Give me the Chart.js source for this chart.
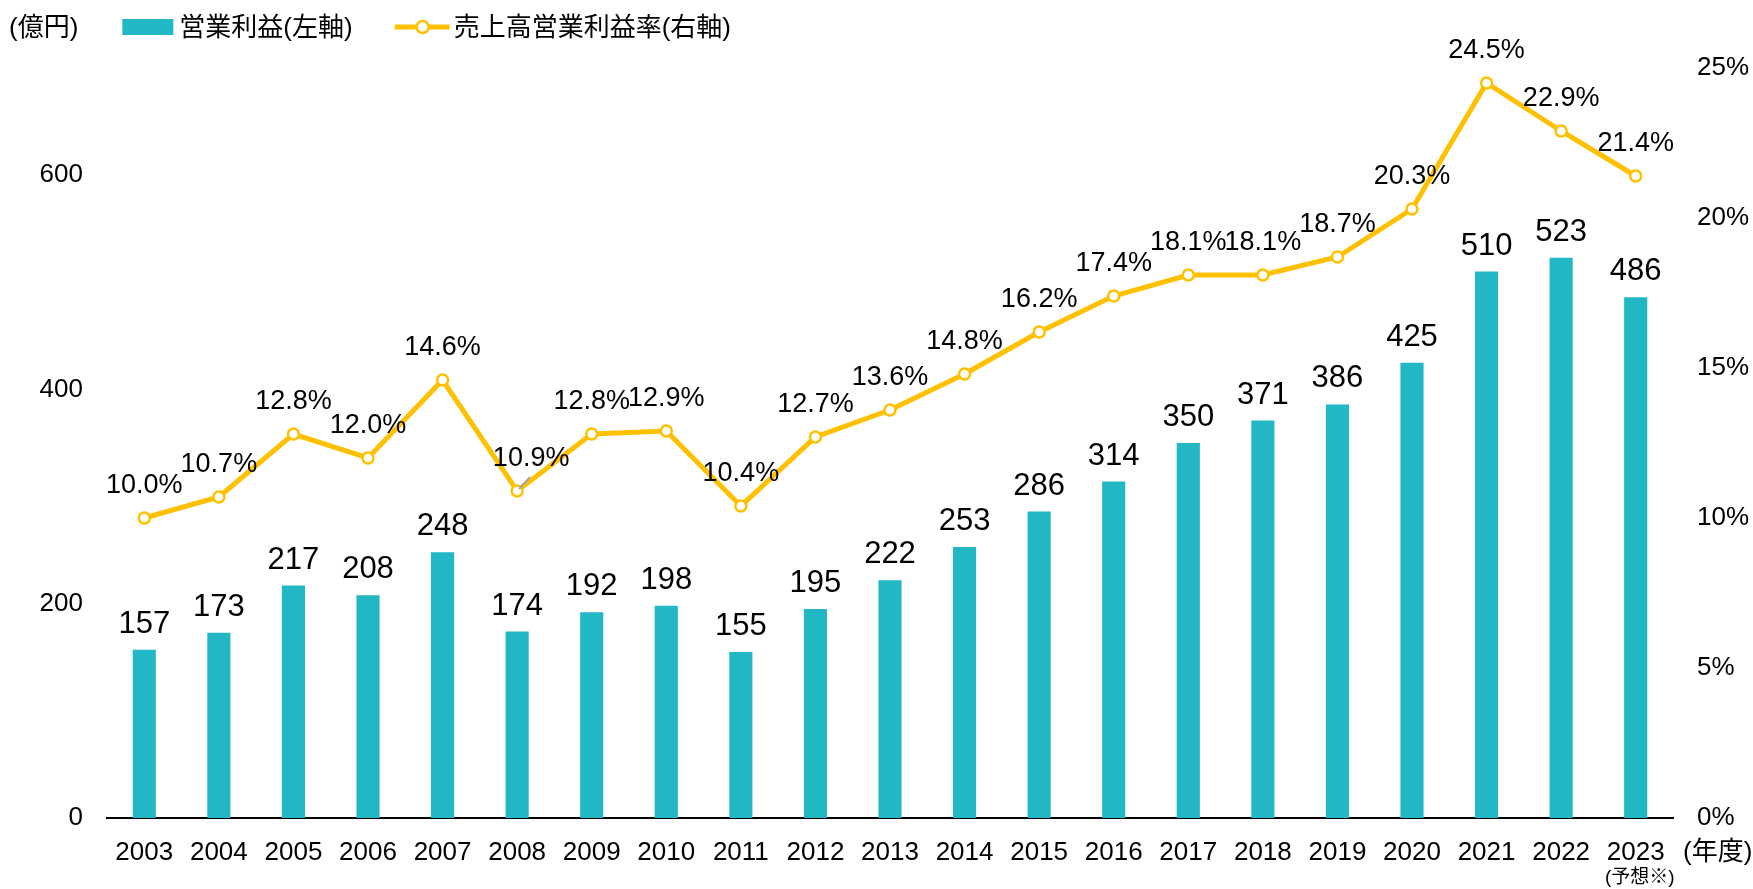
<!DOCTYPE html>
<html lang="ja">
<head>
<meta charset="utf-8">
<script src="https://cdn.jsdelivr.net/npm/chart.js@4.4.1/dist/chart.umd.min.js"></script>
<style>
  html, body { margin: 0; padding: 0; background: #fff; }
</style>
</head>
<body>
<canvas id="profit-chart" width="1753" height="889"></canvas>
<script>
// data
const years = ["2003", "2004", "2005", "2006", "2007", "2008", "2009", "2010", "2011", "2012",
  "2013", "2014", "2015", "2016", "2017", "2018", "2019", "2020", "2021", "2022", "2023"];
const profit = [157, 173, 217, 208, 248, 174, 192, 198, 155, 195,
  222, 253, 286, 314, 350, 371, 386, 425, 510, 523, 486];
const margin = [10.0, 10.7, 12.8, 12.0, 14.6, 10.9, 12.8, 12.9, 10.4, 12.7,
  13.6, 14.8, 16.2, 17.4, 18.1, 18.1, 18.7, 20.3, 24.5, 22.9, 21.4];
const profitTicks = [0, 200, 400, 600];
const marginTicks = [0, 5, 10, 15, 20, 25];

const profitLabel = "営業利益(左軸)";
const marginLabel = "売上高営業利益率(右軸)";
const unitLabel = "(億円)";
const yearUnitLabel = "(年度)";
const forecastNote = "(予想※)";

const FONT = '"Liberation Sans", "Noto Sans CJK JP", sans-serif';
const TEAL = "#21B7C5";
const YELLOW = "#FFC000";

// value labels above bars and points
const valueLabels = {
  id: "valueLabels",
  afterDatasetsDraw(chart) {
    const ctx = chart.ctx;
    ctx.save();
    ctx.fillStyle = "#000";
    ctx.textAlign = "center";
    ctx.textBaseline = "alphabetic";

    ctx.font = "31px " + FONT;
    chart.getDatasetMeta(1).data.forEach((bar, i) => {
      ctx.fillText(String(profit[i]), bar.x, bar.y - 17);
    });

    ctx.font = "27px " + FONT;
    chart.getDatasetMeta(0).data.forEach((pt, i) => {
      let dx = 0;
      if (i === 5) {
        // label pushed aside, with a short leader line
        dx = 14;
        ctx.strokeStyle = "#a6a6a6";
        ctx.lineWidth = 2;
        ctx.beginPath();
        ctx.moveTo(pt.x + 2, pt.y - 2);
        ctx.lineTo(pt.x + 13, pt.y - 14);
        ctx.stroke();
      }
      ctx.fillText(margin[i].toFixed(1) + "%", pt.x + dx, pt.y - 25);
    });
    ctx.restore();
  },
};

// header legend and axis notes
const notes = {
  id: "notes",
  afterDraw(chart) {
    const ctx = chart.ctx;
    ctx.save();
    ctx.fillStyle = "#000";
    ctx.textBaseline = "middle";
    ctx.font = "26px " + FONT;

    let x = 9;
    const y = 29;
    ctx.textAlign = "left";
    ctx.fillText(unitLabel, x, y);
    x += ctx.measureText(unitLabel).width + 44;

    ctx.fillStyle = TEAL;
    ctx.fillRect(x, 19, 51, 16);
    x += 57;
    ctx.fillStyle = "#000";
    ctx.fillText(profitLabel, x, y);
    x += ctx.measureText(profitLabel).width + 42;

    ctx.strokeStyle = YELLOW;
    ctx.lineWidth = 5;
    ctx.beginPath();
    ctx.moveTo(x, 27);
    ctx.lineTo(x + 55, 27);
    ctx.stroke();
    ctx.beginPath();
    ctx.arc(x + 28, 27, 6, 0, Math.PI * 2);
    ctx.fillStyle = "#fff";
    ctx.fill();
    ctx.lineWidth = 2.5;
    ctx.stroke();
    x += 59;
    ctx.fillStyle = "#000";
    ctx.fillText(marginLabel, x, y);

    const xs = chart.scales.x;
    ctx.fillText(yearUnitLabel, 1683, 853);
    ctx.textAlign = "center";
    ctx.font = "19px " + FONT;
    ctx.fillText(forecastNote, xs.getPixelForValue(years.length - 1) + 4, 878);
    ctx.restore();
  },
};

new Chart(document.getElementById("profit-chart"), {
  data: {
    labels: years,
    datasets: [
      {
        type: "line",
        label: marginLabel,
        data: margin,
        yAxisID: "y2",
        borderColor: YELLOW,
        borderWidth: 5,
        pointRadius: 5.5,
        pointBorderWidth: 2.5,
        pointBackgroundColor: "#fff",
        pointBorderColor: YELLOW,
        tension: 0,
        order: 0,
      },
      {
        type: "bar",
        label: profitLabel,
        data: profit,
        yAxisID: "y",
        backgroundColor: TEAL,
        categoryPercentage: 1,
        barPercentage: 0.31,
        order: 1,
      },
    ],
  },
  options: {
    responsive: false,
    devicePixelRatio: 1,
    animation: false,
    layout: { padding: { top: 68, left: 0, right: 0, bottom: 0 } },
    plugins: {
      legend: { display: false },
      tooltip: { enabled: false },
    },
    scales: {
      x: {
        grid: { display: false, drawTicks: false },
        border: { display: true, color: "#000", width: 2 },
        ticks: {
          font: { family: FONT, size: 26 },
          color: "#000",
          padding: 19,
          maxRotation: 0,
          autoSkip: false,
        },
        afterFit: (s) => { s.height = 71; },
      },
      y: {
        position: "left",
        min: 0,
        max: 700,
        grid: { display: false, drawTicks: false },
        border: { display: false },
        ticks: { font: { family: FONT, size: 26 }, color: "#000", padding: 24 },
        afterBuildTicks: (s) => { s.ticks = profitTicks.map((v) => ({ value: v })); },
        afterFit: (s) => { s.width = 107; },
      },
      y2: {
        position: "right",
        min: 0,
        max: 25,
        grid: { display: false, drawTicks: false },
        border: { display: false },
        ticks: {
          font: { family: FONT, size: 26 },
          color: "#000",
          padding: 24,
          callback: (v) => v + "%",
        },
        afterBuildTicks: (s) => { s.ticks = marginTicks.map((v) => ({ value: v })); },
        afterFit: (s) => { s.width = 80; },
      },
    },
  },
  plugins: [valueLabels, notes],
});
</script>
</body>
</html>
